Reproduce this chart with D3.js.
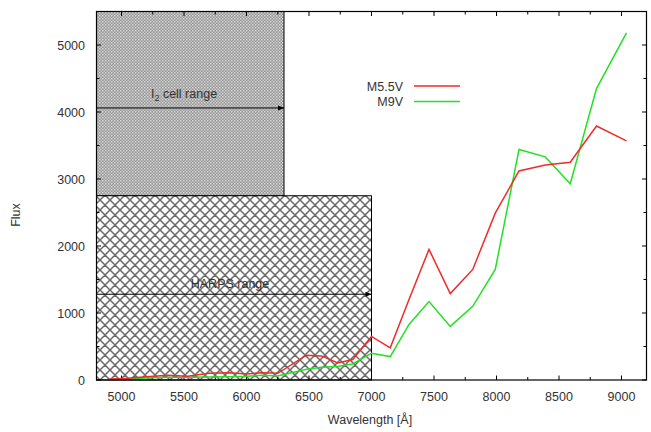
<!DOCTYPE html>
<html lang="en">
<head>
<meta charset="UTF-8">
<title>Flux vs Wavelength</title>
<script src="https://cdnjs.cloudflare.com/ajax/libs/d3/7.8.5/d3.min.js"></script>
<style>
  body { margin: 0; background: #fff; }
  svg text { font-family: "Liberation Sans", Arial, sans-serif; fill: #333; }
</style>
</head>
<body>
<div id="chart"></div>
<script>
// Data
const wavelength = [4890, 5050, 5200, 5370, 5530, 5700, 5860, 6000, 6130, 6250, 6480, 6600, 6730, 6850, 7000, 7150, 7300, 7460, 7630, 7810, 7990, 8180, 8390, 8590, 8800, 9040];
const fluxM55V  = [10, 25, 50, 70, 55, 100, 110, 90, 110, 100, 370, 360, 255, 305, 650, 480, 1200, 1950, 1290, 1650, 2490, 3120, 3210, 3250, 3790, 3570];
const fluxM9V   = [5, 15, 30, 40, 40, 45, 50, 55, 70, 60, 160, 190, 200, 240, 400, 350, 830, 1170, 800, 1100, 1650, 3440, 3330, 2930, 4350, 5180];

const xTicks = [5000, 5500, 6000, 6500, 7000, 7500, 8000, 8500, 9000];
const yTicks = [0, 1000, 2000, 3000, 4000, 5000];

// shaded ranges: [x0, x1, y0, y1, arrowY]
const i2Range = [4800, 6300, 2750, 5500, 4060];
const harpsRange = [4800, 7000, 0, 2750, 1280];

const W = 651, H = 432;
const margin = { top: 11.5, right: 4.5, bottom: 52, left: 96.5 };

const svg = d3.select("#chart").append("svg")
  .attr("width", W).attr("height", H);

const x = d3.scaleLinear().domain([4800, 9200]).range([margin.left, W - margin.right]);
const y = d3.scaleLinear().domain([0, 5500]).range([H - margin.bottom, margin.top]);

const defs = svg.append("defs");

// fine dotted pattern for I2 box
const p1 = defs.append("pattern").attr("id", "dots")
  .attr("patternUnits", "userSpaceOnUse").attr("width", 3).attr("height", 3);
p1.append("rect").attr("width", 3).attr("height", 3).attr("fill", "#959595");
p1.append("rect").attr("x", 0).attr("y", 0).attr("width", 1.5).attr("height", 1.5).attr("fill", "#dadada");
p1.append("rect").attr("x", 1.5).attr("y", 1.5).attr("width", 1.5).attr("height", 1.5).attr("fill", "#c8c8c8");

// crosshatch pattern for HARPS box
const p2 = defs.append("pattern").attr("id", "hatch")
  .attr("patternUnits", "userSpaceOnUse").attr("width", 10).attr("height", 10);
p2.append("rect").attr("width", 10).attr("height", 10).attr("fill", "#fff");
p2.append("path").attr("d", "M0,0 L10,10 M10,0 L0,10 M-5,5 L5,15 M5,-5 L15,5 M-5,5 L5,-5 M5,15 L15,5")
  .attr("stroke", "#6a6a6a").attr("stroke-width", 1.5);

defs.append("marker").attr("id", "arrow")
  .attr("viewBox", "0 0 10 10").attr("refX", 10).attr("refY", 5)
  .attr("markerWidth", 8).attr("markerHeight", 6).attr("markerUnits", "userSpaceOnUse")
  .attr("orient", "auto")
  .append("path").attr("d", "M0,1 L10,5 L0,9 Z").attr("fill", "#000");

defs.append("clipPath").attr("id", "plotclip").append("rect")
  .attr("x", x.range()[0]).attr("y", y.range()[1])
  .attr("width", x.range()[1] - x.range()[0]).attr("height", y.range()[0] - y.range()[1]);

// range boxes
function drawRange(r, fillId) {
  svg.append("rect")
    .attr("x", x(r[0])).attr("y", y(r[3]))
    .attr("width", x(r[1]) - x(r[0])).attr("height", y(r[2]) - y(r[3]))
    .attr("fill", `url(#${fillId})`)
    .attr("stroke", "#000").attr("stroke-width", 1);
  svg.append("line")
    .attr("x1", x(r[0])).attr("x2", x(r[1]))
    .attr("y1", y(r[4])).attr("y2", y(r[4]))
    .attr("stroke", "#000").attr("stroke-width", 1)
    .attr("marker-end", "url(#arrow)");
}
drawRange(i2Range, "dots");
drawRange(harpsRange, "hatch");

const i2Label = svg.append("text")
  .attr("x", 184).attr("y", 98)
  .attr("text-anchor", "middle").attr("font-size", 12.5);
i2Label.append("tspan").text("I");
i2Label.append("tspan").attr("dy", 3).attr("font-size", 9).text("2");
i2Label.append("tspan").attr("dy", -3).text(" cell range");

svg.append("text")
  .attr("x", 230).attr("y", 288)
  .attr("text-anchor", "middle").attr("font-size", 12.5)
  .text("HARPS range");

// ticks (inward, mirrored)
const tk = svg.append("g").attr("stroke", "#000").attr("stroke-width", 1);
d3.range(5000, 9001, 250).forEach(v => {
  const len = v % 500 === 0 ? 4.5 : 3;
  tk.append("line").attr("x1", x(v)).attr("x2", x(v)).attr("y1", y(0)).attr("y2", y(0) - len);
  tk.append("line").attr("x1", x(v)).attr("x2", x(v)).attr("y1", y(5500)).attr("y2", y(5500) + len);
});
d3.range(0, 5501, 500).forEach(v => {
  const len = v % 1000 === 0 ? 4.5 : 3;
  tk.append("line").attr("y1", y(v)).attr("y2", y(v)).attr("x1", x(4800)).attr("x2", x(4800) + len);
  tk.append("line").attr("y1", y(v)).attr("y2", y(v)).attr("x1", x(9200)).attr("x2", x(9200) - len);
});

// series
const line = d3.line().x((d, i) => x(wavelength[i])).y(d => y(d));
const plot = svg.append("g").attr("clip-path", "url(#plotclip)");
plot.append("path").datum(fluxM9V).attr("d", line)
  .attr("fill", "none").attr("stroke", "#22e022").attr("stroke-width", 1.5);
plot.append("path").datum(fluxM55V).attr("d", line)
  .attr("fill", "none").attr("stroke", "#f22a2a").attr("stroke-width", 1.5);

// border
svg.append("rect")
  .attr("x", x(4800)).attr("y", y(5500))
  .attr("width", x(9200) - x(4800)).attr("height", y(0) - y(5500))
  .attr("fill", "none").attr("stroke", "#000").attr("stroke-width", 1.2);

// tick labels
svg.append("g").selectAll("text").data(xTicks).join("text")
  .attr("x", d => x(d)).attr("y", 401)
  .attr("text-anchor", "middle").attr("font-size", 12.5)
  .text(d => d);
svg.append("g").selectAll("text").data(yTicks).join("text")
  .attr("x", 85).attr("y", d => y(d) + 4.5)
  .attr("text-anchor", "end").attr("font-size", 12.5)
  .text(d => d);

svg.append("text")
  .attr("x", 370).attr("y", 424)
  .attr("text-anchor", "middle").attr("font-size", 12.5)
  .text("Wavelength [Å]");
svg.append("text")
  .attr("transform", "translate(20,215) rotate(-90)")
  .attr("text-anchor", "middle").attr("font-size", 12.5)
  .text("Flux");

// legend
const legend = [["M5.5V", "#f22a2a"], ["M9V", "#22e022"]];
legend.forEach((d, i) => {
  const ly = 86 + i * 15.5;
  svg.append("text").attr("x", 403).attr("y", ly + 4.5)
    .attr("text-anchor", "end").attr("font-size", 12.5).text(d[0]);
  svg.append("line").attr("x1", 414).attr("x2", 460).attr("y1", ly).attr("y2", ly)
    .attr("stroke", d[1]).attr("stroke-width", 1.5);
});
</script>
</body>
</html>
